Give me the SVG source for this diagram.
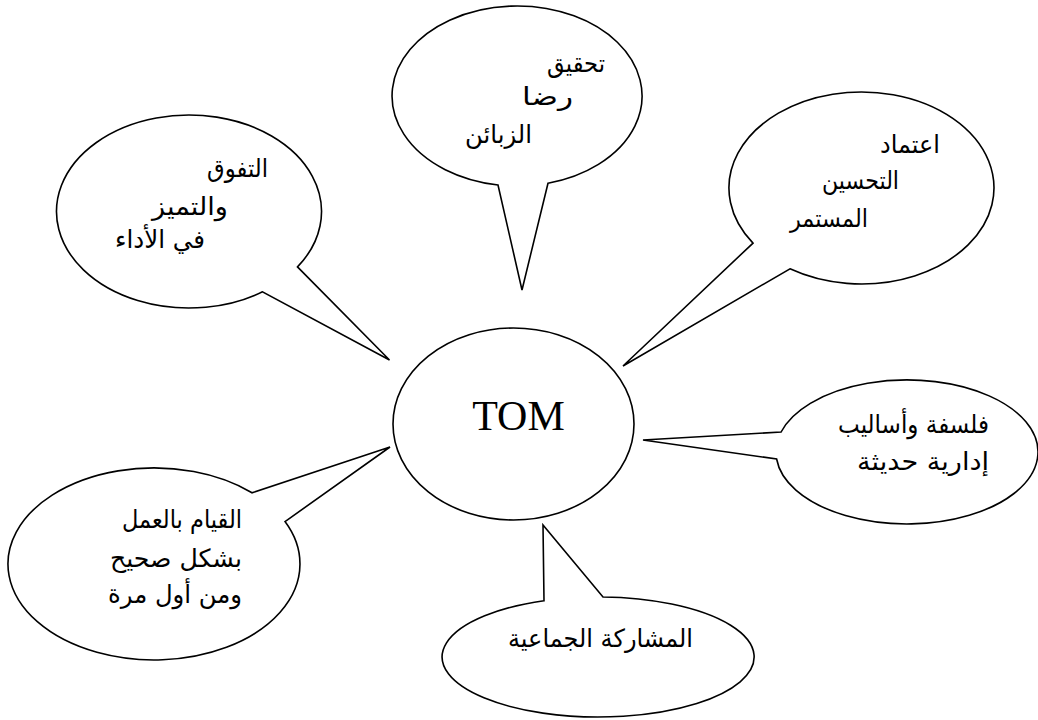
<svg xmlns="http://www.w3.org/2000/svg" width="1038" height="720" viewBox="0 0 1038 720">
<style>
.b{fill:#fff;stroke:#000;stroke-width:1.6;stroke-linejoin:miter}
.ar{font-family:"DejaVu Sans","Noto Sans",sans-serif;font-size:25px;fill:#000;text-anchor:end}
.tom{font-family:"Liberation Serif","Times New Roman",serif;font-size:42px;fill:#000;text-anchor:middle}
</style>
<rect width="1038" height="720" fill="#fff"/>
<g id="connectors"></g>
<g id="center">
<ellipse class="b" cx="513.5" cy="424" rx="120.5" ry="96"/>
<text class="tom" x="518.5" y="430">TOM</text>
</g>
<g id="n-top">
<path class="b" d="M548 183.2 A125 90 0 1 0 498 184.95 L522 290 Z"/>
<text class="ar" x="605" y="72" textLength="58" lengthAdjust="spacingAndGlyphs">تحقيق</text>
<text class="ar" x="573" y="105" textLength="51" lengthAdjust="spacingAndGlyphs">رضا</text>
<text class="ar" x="532" y="143" textLength="67" lengthAdjust="spacingAndGlyphs">الزبائن</text>
</g>
<g id="n-upleft">
<path class="b" d="M298 266.9 A132.5 96.5 0 1 0 263 291.8 L390 360 Z" transform="translate(-0.5,0)"/>
<text class="ar" x="268" y="177" textLength="61" lengthAdjust="spacingAndGlyphs">التفوق</text>
<text class="ar" x="228" y="215" textLength="76" lengthAdjust="spacingAndGlyphs">والتميز</text>
<text class="ar" x="205" y="248" textLength="90" lengthAdjust="spacingAndGlyphs">في الأداء</text>
</g>
<g id="n-upright">
<path class="b" d="M790 268.8 A132.5 96 0 1 0 753 243.1 L623 366 Z"/>
<text class="ar" x="940" y="153" textLength="60" lengthAdjust="spacingAndGlyphs">اعتماد</text>
<text class="ar" x="899" y="189" textLength="77" lengthAdjust="spacingAndGlyphs">التحسين</text>
<text class="ar" x="868" y="227" textLength="78" lengthAdjust="spacingAndGlyphs">المستمر</text>
</g>
<g id="n-right">
<path class="b" d="M781.1 432 A131 72 0 1 1 776.6 459 L643 440 Z"/>
<text class="ar" x="989" y="433" textLength="151" lengthAdjust="spacingAndGlyphs">فلسفة  وأساليب</text>
<text class="ar" x="989" y="470" textLength="132" lengthAdjust="spacingAndGlyphs">إدارية  حديثة</text>
</g>
<g id="n-lowleft">
<path class="b" d="M252 492.8 A146 96 0 1 0 285 521.6 L390 447 Z"/>
<text class="ar" x="242" y="528" textLength="120" lengthAdjust="spacingAndGlyphs">القيام بالعمل</text>
<text class="ar" x="242" y="567" textLength="132" lengthAdjust="spacingAndGlyphs">بشكل صحيح</text>
<text class="ar" x="242" y="603" textLength="134" lengthAdjust="spacingAndGlyphs">ومن أول مرة</text>
</g>
<g id="n-bottom">
<path class="b" d="M603 597 A156 60 0 1 1 544 600.7 L543 525 Z"/>
<text class="ar" x="693" y="647" textLength="185" lengthAdjust="spacingAndGlyphs">المشاركة الجماعية</text>
</g>
</svg>
